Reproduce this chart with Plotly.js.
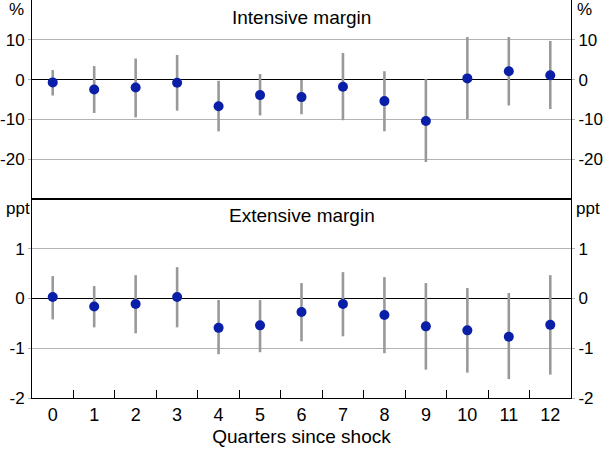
<!DOCTYPE html>
<html>
<head>
<meta charset="utf-8">
<script src="https://cdn.plot.ly/plotly-3.0.1.min.js"></script>
<style>
html,body{margin:0;padding:0;background:#fff;}
#chart{width:603px;height:449px;}
</style>
</head>
<body>
<div id="chart"></div>
<script>
var quarters = ["0","1","2","3","4","5","6","7","8","9","10","11","12"];

// Intensive margin (%)
var intEst   = [-0.7, -2.5, -2.0, -0.8, -6.7, -3.9, -4.4, -1.8, -5.4, -10.4, 0.3, 2.1, 1.1];
var intUpper = [ 2.4,  3.4,  5.3,  6.2, -0.3,  1.4, -0.1,  6.7,  2.1,   0.1, 10.7, 10.7, 9.7];
var intLower = [-4.0, -8.4, -9.5, -7.8, -13.0, -9.0, -8.7, -10.2, -13.0, -20.7, -9.9, -6.5, -7.4];

// Extensive margin (ppt)
var extEst   = [ 0.03, -0.16, -0.11,  0.03, -0.59, -0.54, -0.27, -0.11, -0.33, -0.56, -0.64, -0.77, -0.53];
var extUpper = [ 0.45,  0.25,  0.47,  0.63, -0.03, -0.03,  0.31,  0.53,  0.43,  0.31,  0.21,  0.11,  0.47];
var extLower = [-0.42, -0.58, -0.70, -0.58, -1.12, -1.08, -0.86, -0.76, -1.10, -1.43, -1.49, -1.62, -1.53];

var topTickVals = [10, 0, -10, -20];
var topTickText = ["10", "0", "-10", "-20"];
var botTickVals = [1, 0, -1, -2];
var botTickText = ["1", "0", "-1", "-2"];

var dotColor = "#0a1fa8";
var barColor = "#999999";

function errs(est, up, lo) {
  return {
    plus: up.map(function(u, i){ return u - est[i]; }),
    minus: est.map(function(e, i){ return e - lo[i]; })
  };
}
var eI = errs(intEst, intUpper, intLower);
var eE = errs(extEst, extUpper, extLower);

var traces = [
  {
    x: quarters, y: intEst, xaxis: "x", yaxis: "y", type: "scatter", mode: "markers",
    marker: {color: dotColor, size: 10},
    error_y: {type: "data", symmetric: false, array: eI.plus, arrayminus: eI.minus,
              color: barColor, thickness: 2.6, width: 0},
    hoverinfo: "skip"
  },
  {
    x: quarters, y: extEst, xaxis: "x2", yaxis: "y2", type: "scatter", mode: "markers",
    marker: {color: dotColor, size: 10},
    error_y: {type: "data", symmetric: false, array: eE.plus, arrayminus: eE.minus,
              color: barColor, thickness: 2.6, width: 0},
    hoverinfo: "skip"
  },
  { x: quarters, y: intEst, xaxis: "x", yaxis: "y3", type: "scatter", mode: "markers",
    marker: {opacity: 0}, hoverinfo: "skip" },
  { x: quarters, y: extEst, xaxis: "x2", yaxis: "y4", type: "scatter", mode: "markers",
    marker: {opacity: 0}, hoverinfo: "skip" }
];

var fam = "Liberation Sans, Arial, sans-serif";
var tickFont = {family: fam, size: 17, color: "#000"};
var textFont = {family: fam, size: 19, color: "#000"};

var yCommon = {
  showgrid: true, gridcolor: "#b3b3b3", gridwidth: 1,
  zeroline: true, zerolinecolor: "#000", zerolinewidth: 1,
  showline: true, linecolor: "#000", linewidth: 1,
  ticks: "outside", ticklen: 3, tickcolor: "#b3b3b3",
  tickmode: "array", fixedrange: true, tickfont: tickFont
};

function merge(a, b) { var o = {}; for (var k in a) o[k] = a[k]; for (var k2 in b) o[k2] = b[k2]; return o; }

var layout = {
  width: 603, height: 449,
  margin: {l: 32, r: 32, t: 0, b: 51},
  paper_bgcolor: "#fff", plot_bgcolor: "#fff",
  font: tickFont,
  showlegend: false,
  xaxis: {
    type: "category", anchor: "y", domain: [0, 1], range: [-0.5, 12.5],
    showticklabels: false, ticks: "", showgrid: false,
    showline: true, linecolor: "#000", linewidth: 1, mirror: true
  },
  xaxis2: {
    type: "category", anchor: "y2", domain: [0, 1], range: [-0.5, 12.5],
    tickson: "boundaries", ticks: "inside", ticklen: 8, tickcolor: "#000",
    tickfont: {family: fam, size: 18, color: "#000"},
    showgrid: false, showline: true, linecolor: "#000", linewidth: 1, mirror: true,
    title: {text: "Quarters since shock", font: textFont, standoff: 6}
  },
  yaxis: merge(yCommon, {domain: [0.5, 1], range: [-30, 20], anchor: "x",
    tickvals: topTickVals, ticktext: topTickText, side: "left"}),
  yaxis2: merge(yCommon, {domain: [0, 0.5], range: [-2, 2], anchor: "x2",
    tickvals: botTickVals, ticktext: botTickText, side: "left"}),
  yaxis3: merge(yCommon, {overlaying: "y", range: [-30, 20], side: "right", anchor: "x",
    tickvals: topTickVals, ticktext: topTickText, showgrid: false, zeroline: false}),
  yaxis4: merge(yCommon, {overlaying: "y2", range: [-2, 2], side: "right", anchor: "x2",
    tickvals: botTickVals, ticktext: botTickText, showgrid: false, zeroline: false}),
  annotations: [
    {text: "Intensive margin", xref: "paper", yref: "paper", x: 0.5, y: 1, yshift: -17,
     showarrow: false, font: textFont, xanchor: "center", yanchor: "middle"},
    {text: "Extensive margin", xref: "paper", yref: "paper", x: 0.5, y: 0.5, yshift: -16,
     showarrow: false, font: textFont, xanchor: "center", yanchor: "middle"},
    {text: "%", xref: "paper", yref: "paper", x: 0, xshift: -16, y: 1, yshift: -9,
     showarrow: false, font: tickFont, xanchor: "center", yanchor: "middle"},
    {text: "%", xref: "paper", yref: "paper", x: 1, xshift: 13, y: 1, yshift: -9,
     showarrow: false, font: tickFont, xanchor: "center", yanchor: "middle"},
    {text: "ppt", xref: "paper", yref: "paper", x: 0, xshift: 0, y: 0.5, yshift: -9,
     showarrow: false, font: tickFont, xanchor: "right", yanchor: "middle"},
    {text: "ppt", xref: "paper", yref: "paper", x: 1, xshift: 3, y: 0.5, yshift: -9,
     showarrow: false, font: tickFont, xanchor: "left", yanchor: "middle"}
  ]
};

Plotly.newPlot("chart", traces, layout, {staticPlot: true, displayModeBar: false});
</script>
</body>
</html>
